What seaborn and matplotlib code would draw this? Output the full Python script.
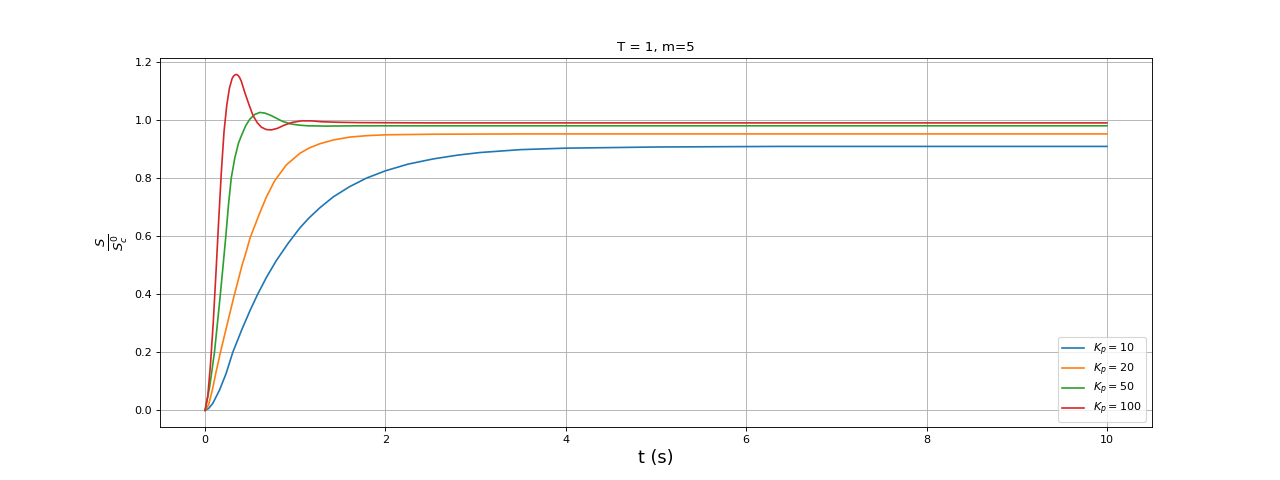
import numpy as np
import pandas as pd
import seaborn as sns
from matplotlib import pyplot as plt

# gains
gains = [10, 20, 50, 100]

# values
t_kp10 = [0, 0.04, 0.085, 0.16, 0.233, 0.307, 0.407, 0.5, 0.58, 0.68, 0.79, 0.92, 1.05, 1.15,
          1.27, 1.42, 1.6, 1.79, 2.0, 2.25, 2.53, 2.8, 3.05, 3.5, 4.0, 5.0, 6.37, 8.0, 10.0]
s_kp10 = [0, 0.007, 0.024, 0.07, 0.127, 0.2, 0.278, 0.345, 0.398, 0.458, 0.516, 0.575, 0.628, 0.662,
          0.697, 0.735, 0.770, 0.800, 0.825, 0.848, 0.866, 0.879, 0.888, 0.898, 0.903, 0.907, 0.909,
          0.909, 0.909]

t_kp20 = [0, 0.04, 0.08, 0.12, 0.17, 0.24, 0.31, 0.41, 0.45, 0.5, 0.6, 0.68, 0.77, 0.9, 1.05,
          1.15, 1.27, 1.42, 1.6, 1.79, 2.0, 2.53, 3.5, 10.0]
s_kp20 = [0, 0.02, 0.07, 0.13, 0.2, 0.29, 0.38, 0.50, 0.54, 0.595, 0.675, 0.735, 0.79, 0.845, 0.885,
          0.903, 0.918, 0.931, 0.941, 0.946, 0.949, 0.951, 0.952, 0.952]

t_kp50 = [0, 0.05, 0.104, 0.129, 0.163, 0.2, 0.23, 0.26, 0.29, 0.33, 0.37, 0.403, 0.45, 0.496,
          0.55, 0.606, 0.66, 0.72, 0.773, 0.86, 0.958, 1.05, 1.14, 1.33, 1.7, 10.0]
s_kp50 = [0, 0.08, 0.2, 0.276, 0.38, 0.5, 0.6, 0.71, 0.8, 0.87, 0.92, 0.946, 0.98, 1.003,
          1.019, 1.026, 1.024, 1.017, 1.009, 0.995, 0.986, 0.982, 0.980, 0.979, 0.980, 0.980]

t_kp100 = [0, 0.03, 0.06, 0.09, 0.12, 0.15, 0.18, 0.21, 0.24, 0.27, 0.30, 0.315, 0.33, 0.345, 0.36,
           0.38, 0.40, 0.44, 0.49, 0.532, 0.58, 0.625, 0.68, 0.736, 0.80, 0.884, 0.97, 1.07, 1.18,
           1.29, 1.5, 1.7, 2.5, 10.0]
s_kp100 = [0, 0.05, 0.16, 0.30, 0.47, 0.65, 0.82, 0.96, 1.05, 1.11, 1.143, 1.151, 1.155, 1.157,
           1.155, 1.148, 1.135, 1.095, 1.05, 1.015, 0.99, 0.975, 0.967, 0.966, 0.971, 0.983, 0.992,
           0.997, 0.997, 0.994, 0.992, 0.991, 0.990, 0.990]

t_all = [t_kp10, t_kp20, t_kp50, t_kp100]
s_all = [s_kp10, s_kp20, s_kp50, s_kp100]

# long table for seaborn
frames = []
for kp, t, s in zip(gains, t_all, s_all):
    frames.append(pd.DataFrame({'t': t, 'S': s, 'Kp': r'$K_p = %d$' % kp}))
df = pd.concat(frames, ignore_index=True)

fig, ax = plt.subplots(figsize=(16, 6), dpi=80)
sns.lineplot(data=df, x='t', y='S', hue='Kp', ax=ax, linewidth=1.5)

ax.set_title('T = 1, m=5')
ax.set_xlabel('t (s)', fontsize=16)
ax.set_ylabel(r'$\frac{S}{S^0_c}$', fontsize=17)
ax.grid(True)
ax.legend(loc='lower right', labelspacing=0.3)

plt.savefig('out.png', dpi=80)
